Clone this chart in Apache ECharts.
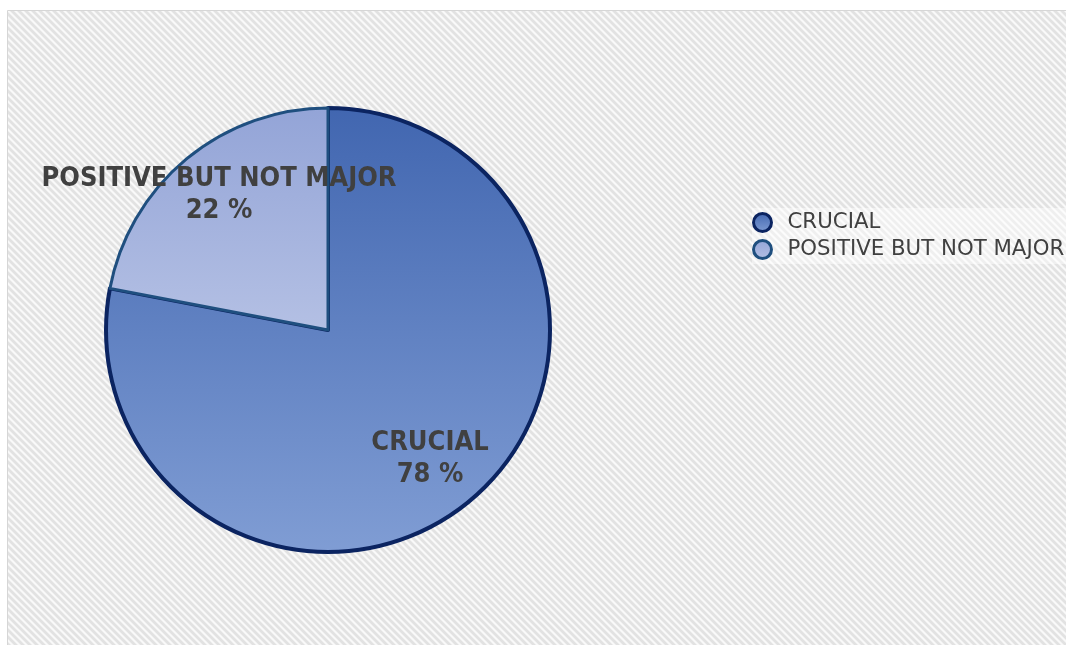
<!DOCTYPE html>
<html>
<head>
<meta charset="utf-8">
<script src="https://cdn.jsdelivr.net/npm/echarts@6/dist/echarts.min.js"></script>
<style>
  html, body { margin: 0; padding: 0; background: #ffffff; overflow: hidden; }
  #chart { position: absolute; left: 0; top: 0; width: 1066px; height: 645px; }
</style>
</head>
<body>
<div id="chart"></div>
<script>
const categories = ['CRUCIAL', 'POSITIVE BUT NOT MAJOR'];
const values = [78, 22];

// diagonal hatch tile for the plot background
function hatchTile() {
  const n = 7;
  const c = document.createElement('canvas');
  c.width = n; c.height = n;
  const ctx = c.getContext('2d');
  const img = ctx.createImageData(n, n);
  for (let y = 0; y < n; y++) {
    for (let x = 0; x < n; x++) {
      const d = ((x - y) % n + n) % n;
      const v = d < 3 ? 226 : (d === 3 || d === 6 ? 238 : 249);
      const k = (y * n + x) * 4;
      img.data[k] = v; img.data[k + 1] = v; img.data[k + 2] = v; img.data[k + 3] = 255;
    }
  }
  ctx.putImageData(img, 0, 0);
  return c;
}

const fills = [
  new echarts.graphic.LinearGradient(0, 0, 0, 1, [
    { offset: 0, color: '#4166b0' }, { offset: 1, color: '#809dd4' }]),
  new echarts.graphic.LinearGradient(0, 0, 0, 1, [
    { offset: 0, color: '#93a4d7' }, { offset: 1, color: '#b4c0e4' }])
];
const borders = ['#0b2461', '#1f4f7f'];
const borderWidths = [4, 3];
const labelShift = [[-7, -3], [0, -3]];

const pieData = categories.map((c, i) => ({
  name: c, value: values[i],
  itemStyle: { color: fills[i], borderColor: borders[i], borderWidth: borderWidths[i] }
}));

const labelData = categories.map((c, i) => ({
  name: c, value: values[i], label: { offset: labelShift[i] }
}));

const chart = echarts.init(document.getElementById('chart'), null, { renderer: 'canvas' });
chart.setOption({
  animation: false,
  backgroundColor: '#ffffff',
  graphic: [
    {
      type: 'rect', z: -10, silent: true,
      shape: { x: 7.5, y: 10.5, width: 1070, height: 650 },
      style: { fill: { image: hatchTile(), repeat: 'repeat' }, stroke: '#d6d6d6', lineWidth: 1 }
    }
  ],
  legend: {
    orient: 'vertical',
    left: 752, top: 208,
    icon: 'circle',
    itemWidth: 40, itemHeight: 18,
    itemGap: 6,
    padding: [4, 20, 4, 0],
    backgroundColor: 'rgba(255,255,255,0.45)',
    itemStyle: { borderWidth: 3 },
    data: categories,
    textStyle: { fontFamily: 'DejaVu Sans', fontSize: 21.3, lineHeight: 21, color: '#404040' }
  },
  series: [
    {
      type: 'pie',
      center: [328, 330],
      radius: [0, 222],
      startAngle: 90,
      clockwise: true,
      label: { show: false },
      labelLine: { show: false },
      emphasis: { disabled: true },
      data: pieData
    },
    {
      type: 'pie',
      center: [328, 330],
      radius: [0, 336],
      startAngle: 90,
      clockwise: true,
      silent: true,
      itemStyle: { color: 'transparent', borderWidth: 0 },
      legendHoverLink: false,
      label: {
        show: true,
        position: 'inside',
        formatter: '{b}\n{c} %',
        fontFamily: 'DejaVu Sans Condensed',
        fontWeight: 'bold',
        fontSize: 27,
        lineHeight: 32,
        color: '#404040',
        align: 'center'
      },
      labelLine: { show: false },
      emphasis: { disabled: true },
      data: labelData
    }
  ]
});
</script>
</body>
</html>
